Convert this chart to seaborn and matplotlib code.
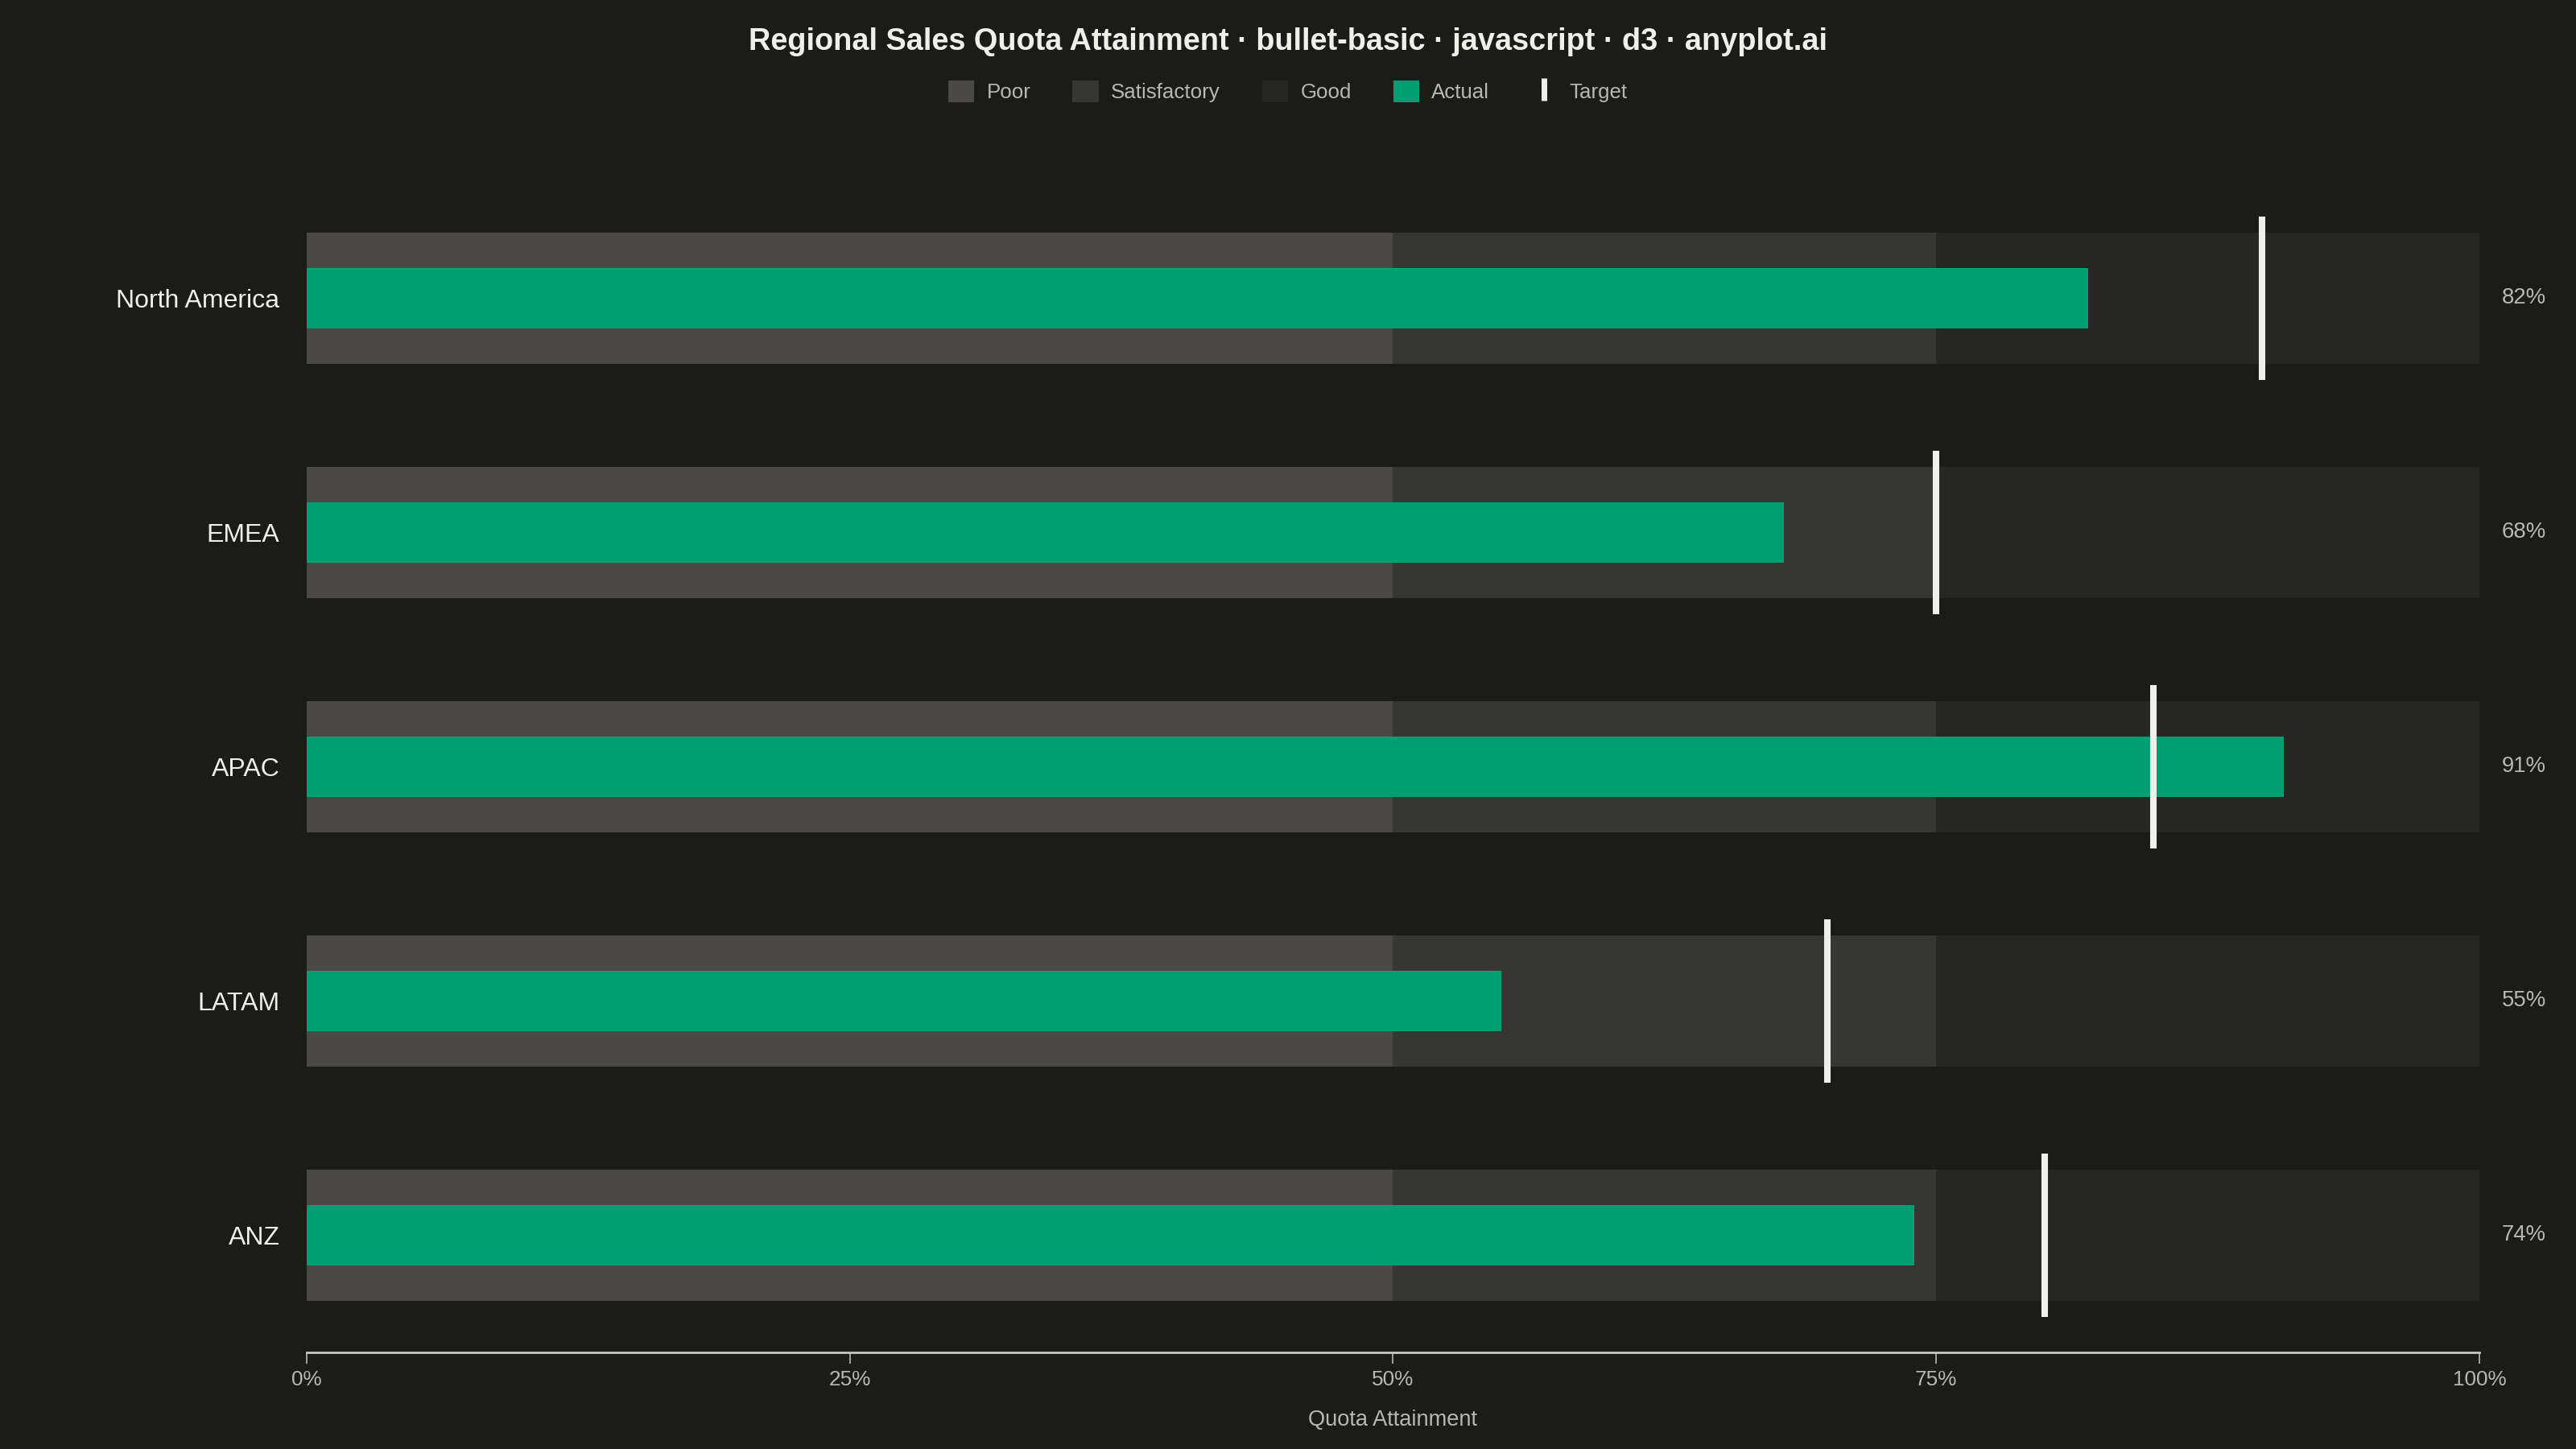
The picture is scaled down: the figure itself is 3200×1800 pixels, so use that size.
import matplotlib
matplotlib.use("Agg")
import matplotlib.pyplot as plt
from matplotlib.patches import Patch
from matplotlib.lines import Line2D
import seaborn as sns
import pandas as pd

regions = ["North America", "EMEA", "APAC", "LATAM", "ANZ"]
actual = [82, 68, 91, 55, 74]
target = [90, 75, 85, 70, 80]
poor_max = [50, 50, 50, 50, 50]
satisfactory_max = [75, 75, 75, 75, 75]
good_max = [100, 100, 100, 100, 100]
ticks = [0, 25, 50, 75, 100]
tick_labels = ["0%", "25%", "50%", "75%", "100%"]

BG = "#1b1b17"
INK = "#f0efe8"
SOFT = "#b8b7b0"
POOR = "#4a4946"
SAT = "#363632"
GOOD = "#262622"
GREEN = "#009e73"

df = pd.DataFrame({"region": regions, "actual": actual, "target": target,
                   "poor": poor_max, "sat": satisfactory_max, "good": good_max})

sns.set_style("dark")
plt.rcParams["font.family"] = ["Liberation Sans", "DejaVu Sans"]

fig = plt.figure(figsize=(16, 9), dpi=200, facecolor=BG)
ax = fig.add_axes([0.119, 0.0667, 0.8435, 0.8083])
ax.set_facecolor(BG)

# qualitative ranges, widest first so the narrower ones sit on top
sns.barplot(data=df, x="good", y="region", orient="h", color=GOOD, width=0.56,
            saturation=1, linewidth=0, ax=ax)
sns.barplot(data=df, x="sat", y="region", orient="h", color=SAT, width=0.56,
            saturation=1, linewidth=0, ax=ax)
sns.barplot(data=df, x="poor", y="region", orient="h", color=POOR, width=0.56,
            saturation=1, linewidth=0, ax=ax)
sns.barplot(data=df, x="actual", y="region", orient="h", color=GREEN, width=0.26,
            saturation=1, linewidth=0, ax=ax)

# target markers
for i, t in enumerate(target):
    ax.vlines(t, i - 0.35, i + 0.35, color=INK, linewidth=2.9, zorder=5)

# value labels on the right
for i, v in enumerate(actual):
    ax.annotate(f"{v}%", (100, i), xytext=(10, 0), textcoords="offset points",
                ha="left", va="center", color=SOFT, fontsize=9.9)

ax.set_xlim(0, 100)
ax.set_ylim(4.5, -0.5)
ax.set_xticks(ticks)
ax.set_xticklabels(tick_labels)
ax.tick_params(axis="x", colors=SOFT, labelsize=9.4, length=5, width=0.6,
               pad=3, bottom=True)
ax.tick_params(axis="y", length=0, pad=12, labelsize=11.5, labelcolor=INK)
ax.set_ylabel("")
ax.set_xlabel("Quota Attainment", color=SOFT, fontsize=9.8, labelpad=9)
ax.grid(False)
for side in ["top", "right", "left"]:
    ax.spines[side].set_visible(False)
ax.spines["bottom"].set_color("#c8c7c0")
ax.spines["bottom"].set_linewidth(1.0)

fig.suptitle("Regional Sales Quota Attainment · bullet-basic · javascript · d3 · anyplot.ai",
             color=INK, fontsize=13.65, fontweight="bold", y=0.971, va="center")

handles = [
    Patch(facecolor=POOR, edgecolor="none", label="Poor"),
    Patch(facecolor=SAT, edgecolor="none", label="Satisfactory"),
    Patch(facecolor=GOOD, edgecolor="none", label="Good"),
    Patch(facecolor=GREEN, edgecolor="none", label="Actual"),
    Line2D([], [], color=INK, marker="|", linestyle="none", markersize=10,
           markeredgewidth=2.5, label="Target"),
]
leg = fig.legend(handles=handles, loc="center", bbox_to_anchor=(0.5, 0.937), ncol=5,
                 frameon=False, fontsize=9.3, handlelength=1.25, handleheight=1.25,
                 handletextpad=0.6, columnspacing=2.0, labelcolor=SOFT)

fig.savefig("out.png", dpi=200, facecolor=BG)
